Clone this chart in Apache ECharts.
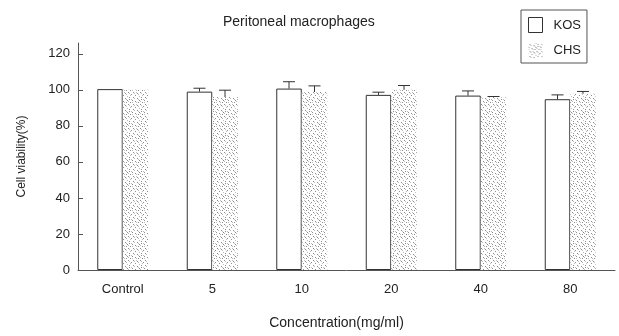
<!DOCTYPE html>
<html>
<head>
<meta charset="utf-8">
<style>html,body{margin:0;padding:0;background:#fff;}#chart{width:619px;height:336px;}</style>
<script src="https://cdn.jsdelivr.net/npm/echarts@6/dist/echarts.min.js"></script>
</head>
<body>
<div id="chart"></div>
<script>
const categories = ['Control', '5', '10', '20', '40', '80'];
const kosValues = [100.4, 99.0, 100.7, 97.2, 96.8, 94.8];
const kosErrors = [0, 1.9, 3.8, 1.5, 2.6, 2.4];
const chsValues = [100.0, 96.0, 98.8, 100.0, 95.8, 97.8];
const chsErrors = [0, 3.8, 3.4, 2.4, 0.5, 1.3];
const yTicks = [0, 20, 40, 60, 80, 100, 120];

// speckle texture for CHS bars (fixed dot layout)
function makePattern() {
  const c = document.createElement('canvas');
  c.width = 12; c.height = 12;
  const g = c.getContext('2d');
  g.fillStyle = '#fff';
  g.fillRect(0, 0, 12, 12);
  g.fillStyle = '#8c8c8c';
  const dots = [[1,1],[5,2],[9,1],[3,5],[7,4],[10,6],[1,8],[5,9],[8,8],[11,10],[3,11],[6,6],[0,4],[9,3]];
  dots.forEach(([x, y]) => g.fillRect(x, y, 1, 1));
  g.fillStyle = '#bdbdbd';
  const dots2 = [[2,2],[6,3],[4,6],[8,5],[2,9],[9,9],[6,10],[11,3],[0,6],[10,11],[7,0],[4,8]];
  dots2.forEach(([x, y]) => g.fillRect(x, y, 1, 1));
  return c;
}
const pattern = makePattern();

const BAR_W = 25.5;
function errSeries(values, errors, offset) {
  return {
    type: 'custom',
    silent: true,
    z: 5,
    data: values.map((v, i) => [i, v, errors[i]]),
    renderItem: function (params, api) {
      const idx = api.value(0), v = api.value(1), e = api.value(2);
      if (!e) return null;
      const x = api.coord([idx, 0])[0] + offset;
      const y1 = api.coord([idx, v])[1];
      const y2 = api.coord([idx, v + e])[1];
      const st = { stroke: '#333', lineWidth: 1 };
      return {
        type: 'group',
        children: [
          { type: 'line', shape: { x1: x, y1: y1, x2: x, y2: y2 }, style: st },
          { type: 'line', shape: { x1: x - 6, y1: y2, x2: x + 6, y2: y2 }, style: st }
        ]
      };
    }
  };
}

const chart = echarts.init(document.getElementById('chart'), null, { renderer: 'canvas' });
const font = 'Liberation Sans, Arial, Helvetica, sans-serif';
chart.setOption({
  animation: false,
  backgroundColor: '#fff',
  textStyle: { fontFamily: font },
  title: {
    text: 'Peritoneal macrophages',
    left: 218, top: 10,
    textStyle: { fontSize: 14, fontWeight: 'normal', color: '#222', fontFamily: font }
  },
  legend: {
    data: [
      { name: 'KOS', icon: 'rect', itemStyle: { color: '#fff', borderColor: '#333', borderWidth: 1 } },
      { name: 'CHS', icon: 'rect' }
    ],
    orient: 'vertical',
    left: 521, top: 10,
    padding: [7, 6, 5, 7],
    itemWidth: 14, itemHeight: 15,
    itemGap: 10,
    borderColor: '#555', borderWidth: 1,
    textStyle: { fontSize: 13, color: '#222', fontFamily: font, padding: [0, 0, 0, 6] }
  },
  grid: { left: 78, right: 4, top: 43, bottom: 66 },
  xAxis: {
    type: 'category',
    data: categories,
    name: 'Concentration(mg/ml)',
    nameLocation: 'middle',
    nameGap: 46,
    nameTextStyle: { fontSize: 14, color: '#222', padding: [0, 20, 0, 0] },
    axisLine: { lineStyle: { color: '#555', width: 1 } },
    axisTick: { inside: true, length: 7, lineStyle: { color: '#555' } },
    axisLabel: { fontSize: 13, color: '#222', margin: 13 },
    splitLine: { show: false }
  },
  yAxis: {
    type: 'value',
    min: 0, max: 126, interval: 20,
    name: 'Cell viability(%)',
    nameLocation: 'middle',
    nameGap: 50,
    nameTextStyle: { fontSize: 12, color: '#222' },
    axisLine: { show: true, lineStyle: { color: '#555', width: 1 } },
    axisTick: { show: true, inside: true, length: 5, lineStyle: { color: '#555' } },
    axisLabel: {
      fontSize: 13, color: '#222', margin: 8, showMaxLabel: false,
      formatter: v => (yTicks.indexOf(v) >= 0 ? String(v) : '')
    },
    splitLine: { show: false }
  },
  series: [
    {
      name: 'KOS', type: 'bar', data: kosValues,
      barWidth: BAR_W, barGap: '0%',
      itemStyle: { color: '#fff', borderColor: '#333', borderWidth: 1 }
    },
    {
      name: 'CHS', type: 'bar', data: chsValues,
      barWidth: BAR_W, barGap: '0%',
      itemStyle: { color: { image: pattern, repeat: 'repeat' }, borderWidth: 0 }
    },
    errSeries(kosValues, kosErrors, -BAR_W / 2),
    errSeries(chsValues, chsErrors, BAR_W / 2)
  ]
});
</script>
</body>
</html>
